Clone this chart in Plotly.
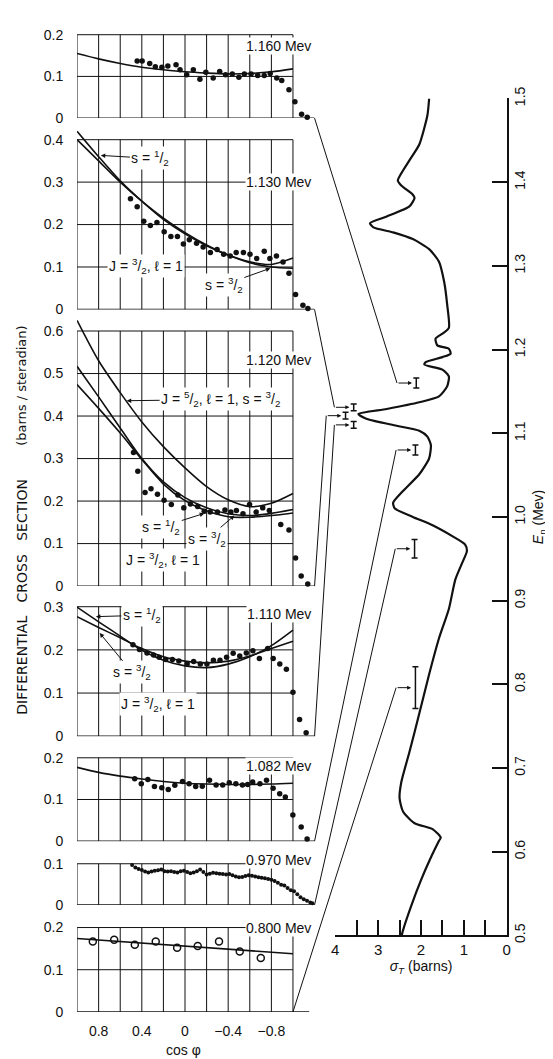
import plotly.graph_objects as go

W, H = 553, 1059
FONT = "Liberation Sans"

# ---------------- data ----------------
energy_labels = ["1.160 Mev", "1.130 Mev", "1.120 Mev", "1.110 Mev", "1.082 Mev", "0.970 Mev", "0.800 Mev"]
y_tops = [0.2, 0.4, 0.6, 0.3, 0.2, 0.1, 0.2]

cos_grid = [1.0, 0.8, 0.6, 0.4, 0.2, 0.0, -0.2, -0.4, -0.6, -0.8, -1.0]
cos_ticks = [0.8, 0.4, 0.0, -0.4, -0.8]
cos_ticktext = ["0.8", "0.4", "0", "\u22120.4", "\u22120.8"]

# 1.160 Mev
p1_cos = [0.443, 0.397, 0.327, 0.275, 0.214, 0.159, 0.083, 0.046, -0.016, -0.077, -0.138, -0.193, -0.261, -0.321,
          -0.376, -0.438, -0.499, -0.550, -0.612, -0.673, -0.734, -0.789, -0.850, -0.896, -0.963, -1.018, -1.080, -1.132]
p1_val = [0.137, 0.137, 0.131, 0.123, 0.122, 0.125, 0.128, 0.116, 0.104, 0.116, 0.093, 0.110, 0.096, 0.112,
          0.104, 0.106, 0.098, 0.106, 0.106, 0.102, 0.102, 0.107, 0.096, 0.090, 0.068, 0.039, 0.009, 0.002]
p1_curve = [0.155, 0.142, 0.131, 0.122, 0.116, 0.111, 0.108, 0.106, 0.107, 0.111, 0.118]

# 1.130 Mev
p2_cos = [0.505, 0.443, 0.382, 0.321, 0.260, 0.193, 0.131, 0.070, 0.015, -0.040, -0.107, -0.168, -0.235, -0.297,
          -0.358, -0.419, -0.474, -0.541, -0.602, -0.664, -0.734, -0.786, -0.847, -0.908, -0.963, -1.024, -1.092, -1.138]
p2_val = [0.261, 0.242, 0.208, 0.198, 0.205, 0.183, 0.172, 0.172, 0.154, 0.164, 0.156, 0.147, 0.134, 0.141,
          0.130, 0.126, 0.134, 0.134, 0.130, 0.120, 0.137, 0.120, 0.126, 0.112, 0.085, 0.035, 0.010, 0.002]
p2_curve_s12 = [0.420, 0.360, 0.303, 0.255, 0.212, 0.178, 0.150, 0.128, 0.112, 0.106, 0.121]
p2_curve_s32 = [0.400, 0.350, 0.300, 0.255, 0.215, 0.181, 0.152, 0.128, 0.110, 0.100, 0.097]

# 1.120 Mev
p3_cos = [0.477, 0.437, 0.370, 0.315, 0.255, 0.194, 0.127, 0.066, 0.011, -0.050, -0.117, -0.178, -0.233, -0.300,
          -0.370, -0.425, -0.476, -0.537, -0.598, -0.659, -0.720, -0.781, -0.887, -0.963, -1.024, -1.076, -1.137]
p3_val = [0.314, 0.270, 0.220, 0.229, 0.216, 0.202, 0.192, 0.214, 0.184, 0.193, 0.187, 0.176, 0.174, 0.174,
          0.179, 0.174, 0.178, 0.170, 0.192, 0.174, 0.184, 0.178, 0.145, 0.132, 0.066, 0.024, 0.005]
p3_curve_j52 = [0.625, 0.530, 0.455, 0.386, 0.328, 0.278, 0.234, 0.203, 0.187, 0.195, 0.218]
p3_curve_s12 = [0.517, 0.445, 0.372, 0.300, 0.245, 0.208, 0.184, 0.170, 0.166, 0.171, 0.180]
p3_curve_s32 = [0.474, 0.418, 0.360, 0.298, 0.240, 0.201, 0.177, 0.163, 0.162, 0.166, 0.172]

# 1.110 Mev
p4_cos = [0.482, 0.422, 0.352, 0.291, 0.239, 0.178, 0.117, 0.057, -0.020, -0.080, -0.142, -0.203, -0.263, -0.324,
          -0.385, -0.446, -0.507, -0.568, -0.629, -0.689, -0.766, -0.817, -0.878, -0.939, -1.000, -1.061, -1.122]
p4_val = [0.212, 0.201, 0.193, 0.188, 0.183, 0.178, 0.178, 0.174, 0.168, 0.173, 0.167, 0.167, 0.176, 0.176,
          0.183, 0.192, 0.186, 0.193, 0.198, 0.180, 0.203, 0.180, 0.167, 0.155, 0.102, 0.039, 0.008]
p4_curve_s12 = [0.299, 0.265, 0.232, 0.199, 0.176, 0.163, 0.159, 0.167, 0.184, 0.210, 0.246]
p4_curve_s32 = [0.277, 0.252, 0.228, 0.203, 0.184, 0.174, 0.170, 0.174, 0.186, 0.203, 0.220]

# 1.082 Mev
p5_cos = [0.466, 0.405, 0.344, 0.283, 0.215, 0.155, 0.094, 0.023, -0.038, -0.099, -0.160, -0.227, -0.288, -0.349,
          -0.410, -0.471, -0.532, -0.580, -0.627, -0.694, -0.755, -0.816, -0.877, -0.929, -0.999, -1.076, -1.131]
p5_val = [0.150, 0.138, 0.148, 0.131, 0.128, 0.124, 0.134, 0.143, 0.138, 0.131, 0.132, 0.146, 0.135, 0.135,
          0.140, 0.138, 0.135, 0.136, 0.142, 0.138, 0.146, 0.127, 0.114, 0.106, 0.063, 0.034, 0.005]
p5_curve = [0.177, 0.165, 0.156, 0.149, 0.143, 0.139, 0.137, 0.136, 0.136, 0.137, 0.139]

# 0.970 Mev
p6_cos = [0.49, 0.46, 0.43, 0.40, 0.37, 0.34, 0.31, 0.28, 0.25, 0.22, 0.19, 0.16, 0.13, 0.10, 0.07, 0.04, 0.01,
          -0.02, -0.05, -0.08, -0.11, -0.14, -0.17, -0.20, -0.23, -0.26, -0.29, -0.32, -0.35, -0.38, -0.41, -0.44,
          -0.47, -0.50, -0.53, -0.56, -0.59, -0.62, -0.65, -0.68, -0.71, -0.74, -0.77, -0.80, -0.83, -0.86, -0.89,
          -0.92, -0.95, -0.98, -1.01, -1.04, -1.07, -1.10, -1.13, -1.16, -1.18]
p6_val = [0.097, 0.091, 0.087, 0.085, 0.081, 0.079, 0.081, 0.083, 0.084, 0.086, 0.082, 0.081, 0.082, 0.080, 0.079,
          0.082, 0.083, 0.080, 0.077, 0.079, 0.082, 0.086, 0.080, 0.074, 0.076, 0.078, 0.077, 0.076, 0.075, 0.074,
          0.075, 0.072, 0.069, 0.067, 0.068, 0.070, 0.072, 0.071, 0.069, 0.067, 0.066, 0.065, 0.063, 0.061, 0.058,
          0.054, 0.049, 0.047, 0.041, 0.036, 0.033, 0.026, 0.019, 0.014, 0.010, 0.006, 0.004]

# 0.800 Mev
p7_cos = [0.854, 0.656, 0.465, 0.271, 0.073, -0.118, -0.315, -0.507, -0.702]
p7_val = [0.167, 0.171, 0.159, 0.167, 0.152, 0.156, 0.167, 0.143, 0.128]
p7_line_cos = [1.0, -1.0]
p7_line_val = [0.174, 0.138]

# total cross section (right panel)
sigma_T = [1.81, 1.85, 2.04, 2.27, 2.54, 2.46, 2.19, 2.15, 2.27, 2.80, 3.19, 3.11, 2.65, 2.19, 1.81, 1.58, 1.46,
           1.39, 1.35, 1.50, 1.66, 1.62, 1.35, 1.31, 1.50, 1.89, 1.92, 1.50, 1.35, 1.39, 1.58, 2.04, 2.80, 3.46,
           3.26, 2.57, 2.04, 1.85, 1.77, 1.81, 2.04, 2.42, 2.65, 2.61, 2.19, 1.73, 1.27, 0.97, 0.93, 1.04, 1.20,
           1.35, 1.58, 1.81, 2.04, 2.27, 2.46, 2.50, 2.42, 2.15, 1.73, 1.54, 1.58, 1.77, 2.00, 2.23, 2.42, 2.45]
E_n = [1.500, 1.480, 1.445, 1.426, 1.402, 1.396, 1.385, 1.381, 1.371, 1.359, 1.351, 1.346, 1.340, 1.332, 1.320,
       1.305, 1.281, 1.254, 1.226, 1.219, 1.213, 1.205, 1.201, 1.195, 1.191, 1.185, 1.182, 1.176, 1.168, 1.156,
       1.144, 1.137, 1.129, 1.123, 1.117, 1.109, 1.103, 1.096, 1.086, 1.070, 1.051, 1.031, 1.017, 1.010, 1.000,
       0.990, 0.977, 0.967, 0.959, 0.945, 0.925, 0.890, 0.855, 0.812, 0.765, 0.719, 0.683, 0.664, 0.648, 0.634,
       0.627, 0.617, 0.613, 0.593, 0.566, 0.535, 0.506, 0.500]

# energy-resolution markers ("I") tied to each panel
mark_sigma = [2.11, 3.57, 3.76, 3.57, 2.13, 2.15, 2.13]
mark_E = [1.160, 1.131, 1.121, 1.110, 1.080, 0.962, 0.796]
mark_err = [0.006, 0.004, 0.004, 0.004, 0.006, 0.011, 0.025]

sigma_ticks = [0, 0.5, 1, 1.5, 2, 2.5, 3, 3.5, 4]
sigma_ticktext = ["0", "", "1", "", "2", "", "3", "", "4"]
E_ticks = [0.5, 0.6, 0.7, 0.8, 0.9, 1.0, 1.1, 1.2, 1.3, 1.4, 1.5]
E_ticktext = ["0.5", "0.6", "0.7", "0.8", "0.9", "1.0", "1.1", "1.2", "1.3", "1.4", "1.5"]

# ---------------- layout geometry ----------------
zero_px = [100, 295, 577, 730, 837, 902, 1011]
top_px = [15, 122, 317, 598, 752, 860, 925]
EXT = 0.035
X_RANGE = [1.0, -1.2]
X_DOM = [66 / W, 307 / W]
R_XRANGE = [4, 0]
R_YRANGE = [0.5, 1.5]
R_XDOM = [328 / W, 502 / W]
R_YDOM = [1 - 933 / H, 1 - 80 / H]
anchor_cos = [-1.2, -1.2, -1.2, -1.2, -1.2, -1.2, -1.0]
bottom_end = [-1.2, -1.2, -1.2, -1.2, -1.2, -1.2, -1.15]

y_doms, y_ranges = [], []
for zp, tp, yt in zip(zero_px, top_px, y_tops):
    sc = (zp - tp) / yt
    dtop = zp - (yt + EXT) * sc
    y_doms.append([1 - zp / H, 1 - dtop / H])
    y_ranges.append([0, yt + EXT])


def ax_name(n, a):
    return a if n == 1 else f"{a}{n}"


def lin(v, r, d):
    return d[0] + (v - r[0]) / (r[1] - r[0]) * (d[1] - d[0])


fig = go.Figure()
shapes, annos = [], []
BLACK = "#111"

curve_sets = [
    [p1_curve], [p2_curve_s12, p2_curve_s32], [p3_curve_j52, p3_curve_s12, p3_curve_s32],
    [p4_curve_s12, p4_curve_s32], [p5_curve], [], []
]
point_sets = [(p1_cos, p1_val), (p2_cos, p2_val), (p3_cos, p3_val), (p4_cos, p4_val),
              (p5_cos, p5_val), (p6_cos, p6_val), (p7_cos, p7_val)]
label_y = [0.172, 0.300, 0.531, 0.284, 0.181, 0.108, 0.198]

for i in range(7):
    n = i + 1
    xa, ya = ax_name(n, "x"), ax_name(n, "y")
    yt = y_tops[i]
    for c in cos_grid:
        shapes.append(dict(type="line", xref=xa, yref=ya, x0=c, x1=c, y0=0, y1=yt,
                           line=dict(color=BLACK, width=1), layer="below"))
    k = 1
    while k * 0.1 <= yt + 1e-9:
        shapes.append(dict(type="line", xref=xa, yref=ya, x0=1.0, x1=-1.0, y0=k * 0.1, y1=k * 0.1,
                           line=dict(color=BLACK, width=1), layer="below"))
        k += 1
    shapes.append(dict(type="line", xref=xa, yref=ya, x0=1.0, x1=bottom_end[i], y0=0, y1=0,
                       line=dict(color=BLACK, width=1.3), layer="below"))
    for cv in curve_sets[i]:
        fig.add_trace(go.Scatter(x=cos_grid, y=cv, mode="lines", xaxis=xa, yaxis=ya,
                                 line=dict(color=BLACK, width=1.6, shape="spline", smoothing=0.8),
                                 hoverinfo="skip"))
    if i == 6:
        fig.add_trace(go.Scatter(x=p7_line_cos, y=p7_line_val, mode="lines", xaxis=xa, yaxis=ya,
                                 line=dict(color=BLACK, width=1.6), hoverinfo="skip"))
    px_, pv_ = point_sets[i]
    if i == 6:
        mk = dict(symbol="circle-open", size=7, color=BLACK, line=dict(width=1.5, color=BLACK))
    elif i == 5:
        mk = dict(symbol="circle", size=4, color=BLACK)
    else:
        mk = dict(symbol="circle", size=5.5, color=BLACK)
    fig.add_trace(go.Scatter(x=px_, y=pv_, mode="markers", xaxis=xa, yaxis=ya, marker=mk,
                             cliponaxis=False, hoverinfo="skip"))
    annos.append(dict(xref=xa, yref=ya, x=-0.87, y=label_y[i], text=energy_labels[i], showarrow=False,
                      font=dict(family=FONT, size=14, color=BLACK), bgcolor="white", borderpad=0))
    yt_vals = [round(k * 0.1, 1) for k in range(int(round(yt * 10)) + 1)]
    yt_text = ["0" if v == 0 else f"{v:.1f}" for v in yt_vals]
    xaxis = dict(domain=X_DOM, range=X_RANGE, anchor=ya, showgrid=False, zeroline=False, showline=False,
                 showticklabels=False, ticks="")
    if i == 6:
        xaxis.update(showticklabels=True, tickvals=cos_ticks, ticktext=cos_ticktext, ticks="outside",
                     ticklen=6, tickcolor="rgba(0,0,0,0)",
                     tickfont=dict(family=FONT, size=14, color=BLACK))
    yaxis = dict(domain=y_doms[i], range=y_ranges[i], anchor=xa, showgrid=False, zeroline=False,
                 showline=False, ticks="outside", ticklen=10, tickcolor="rgba(0,0,0,0)",
                 tickvals=yt_vals, ticktext=yt_text,
                 tickfont=dict(family=FONT, size=14, color=BLACK))
    fig.layout[ax_name(n, "xaxis")] = xaxis
    fig.layout[ax_name(n, "yaxis")] = yaxis

# curve labels with arrows inside panels
ARW = dict(showarrow=True, arrowhead=2, arrowsize=0.9, arrowwidth=1, arrowcolor=BLACK)
TXT = dict(family=FONT, size=14, color=BLACK)
half = "<sup>1</sup>/<sub>2</sub>"
three_half = "<sup>3</sup>/<sub>2</sub>"
five_half = "<sup>5</sup>/<sub>2</sub>"
inner = [
    (2, "s = " + half, 0.78, 0.363, 0.32, 0.356, True),
    (2, "J = " + three_half + ", \u2113 = 1", None, None, 0.36, 0.102, False),
    (2, "s = " + three_half, -0.79, 0.097, -0.36, 0.058, True),
    (3, "J = " + five_half + ", \u2113 = 1, s = " + three_half, 0.54, 0.436, -0.33, 0.439, True),
    (3, "s = " + half, -0.178, 0.171, 0.22, 0.139, True),
    (3, "s = " + three_half, -0.458, 0.166, -0.205, 0.111, True),
    (3, "J = " + three_half + ", \u2113 = 1", None, None, 0.205, 0.062, False),
    (4, "s = " + half, 0.826, 0.277, 0.40, 0.28, True),
    (4, "s = " + three_half, 0.79, 0.239, 0.49, 0.148, True),
    (4, "J = " + three_half + ", \u2113 = 1", None, None, 0.25, 0.075, False),
]
for n, txt, hx, hy, tx, ty, arrow in inner:
    xa, ya = ax_name(n, "x"), ax_name(n, "y")
    if arrow:
        annos.append(dict(xref=xa, yref=ya, axref=xa, ayref=ya, x=hx, y=hy, ax=tx, ay=ty, text=txt,
                          font=TXT, bgcolor="white", **ARW))
    else:
        annos.append(dict(xref=xa, yref=ya, x=tx, y=ty, text=txt, showarrow=False, font=TXT, bgcolor="white"))

# right panel: total cross-section
fig.add_trace(go.Scatter(x=sigma_T, y=E_n, mode="lines", xaxis="x8", yaxis="y8",
                         line=dict(color=BLACK, width=2.2, shape="spline", smoothing=0.6), hoverinfo="skip"))
fig.add_trace(go.Scatter(x=mark_sigma, y=mark_E, mode="markers", xaxis="x8", yaxis="y8",
                         marker=dict(size=1, color=BLACK),
                         error_y=dict(type="data", array=mark_err, width=3, thickness=1.5, color=BLACK),
                         cliponaxis=False, hoverinfo="skip"))

OFF = 0.45
for i in range(7):
    x0 = lin(anchor_cos[i], X_RANGE, X_DOM)
    y0 = lin(0, y_ranges[i], y_doms[i])
    x1 = lin(mark_sigma[i] + OFF, R_XRANGE, R_XDOM)
    y1 = lin(mark_E[i], R_YRANGE, R_YDOM)
    shapes.append(dict(type="line", xref="paper", yref="paper", x0=x0, y0=y0, x1=x1, y1=y1,
                       line=dict(color=BLACK, width=1)))
    annos.append(dict(xref="x8", yref="y8", axref="x8", ayref="y8", x=mark_sigma[i] + 0.1, y=mark_E[i],
                      ax=mark_sigma[i] + OFF, ay=mark_E[i], text="", showarrow=True, arrowhead=2,
                      arrowsize=0.8, arrowwidth=1, arrowcolor=BLACK, standoff=0))

fig.layout.xaxis8 = dict(domain=R_XDOM, range=R_XRANGE, anchor="y8", showgrid=False, zeroline=False,
                         showline=True, linecolor=BLACK, linewidth=1.5, ticks="inside", ticklen=16,
                         tickwidth=1.5, tickcolor=BLACK, tickvals=sigma_ticks, ticktext=sigma_ticktext,
                         tickfont=dict(family=FONT, size=15, color=BLACK),
                         title=dict(text="<i>\u03c3</i><sub><i>T</i></sub> (barns)", standoff=4,
                                    font=dict(family=FONT, size=14, color=BLACK)))
fig.layout.yaxis8 = dict(domain=R_YDOM, range=R_YRANGE, anchor="x8", side="right", showgrid=False,
                         zeroline=False, showline=True, linecolor=BLACK, linewidth=1.5, ticks="inside",
                         ticklen=15, tickwidth=1.5, tickcolor=BLACK, tickvals=E_ticks, ticktext=E_ticktext,
                         tickangle=-90, tickfont=dict(family=FONT, size=14, color=BLACK),
                         title=dict(text="<i>E</i><sub>n</sub> (Mev)", standoff=6,
                                    font=dict(family=FONT, size=14, color=BLACK)))

# global axis labels
annos.append(dict(xref="paper", yref="paper", x=10 / W, y=1 - 588 / H, textangle=-90, showarrow=False,
                  xanchor="center", yanchor="middle",
                  text="DIFFERENTIAL\u00a0\u00a0\u00a0CROSS\u00a0\u00a0\u00a0SECTION",
                  font=dict(family="DejaVu Sans", size=14, color=BLACK)))
annos.append(dict(xref="paper", yref="paper", x=10 / W, y=1 - 373 / H, textangle=-90, showarrow=False,
                  xanchor="center", yanchor="middle",
                  text="(barns / steradian)", font=dict(family="DejaVu Sans", size=13, color=BLACK)))
annos.append(dict(xref="paper", yref="paper", x=174 / W, y=1 - 1050 / H, showarrow=False,
                  xanchor="center", yanchor="middle",
                  text="cos \u03c6", font=dict(family=FONT, size=14, color=BLACK)))

fig.update_layout(width=W, height=H, margin=dict(l=0, r=0, t=0, b=0), paper_bgcolor="white",
                  plot_bgcolor="white", showlegend=False, shapes=shapes, annotations=annos)
fig.write_html("out.html")
